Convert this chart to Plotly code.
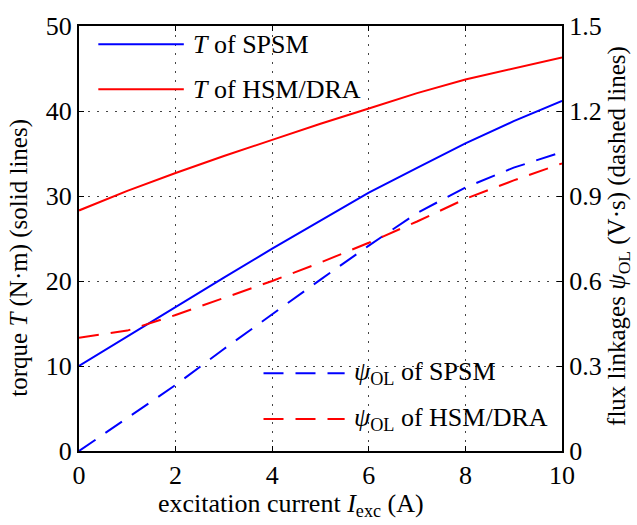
import plotly.graph_objects as go

I_exc = [0, 1, 2, 3, 4, 5, 6, 7, 8, 9, 10]
T_spsm = [10.0, 13.5, 17.0, 20.4, 23.8, 27.1, 30.4, 33.3, 36.2, 38.8, 41.2]
T_hsm = [28.3, 30.6, 32.7, 34.7, 36.6, 38.5, 40.3, 42.1, 43.7, 45.0, 46.3]
psi_spsm = [0.0, 0.115, 0.233, 0.36, 0.484, 0.605, 0.725, 0.84, 0.93, 1.0, 1.055]
psi_hsm = [0.40, 0.425, 0.48, 0.54, 0.60, 0.665, 0.735, 0.81, 0.89, 0.955, 1.015]

x_ticks = [0, 2, 4, 6, 8, 10]
y1_ticks = [0, 10, 20, 30, 40, 50]
y2_ticks = [0, 0.3, 0.6, 0.9, 1.2, 1.5]
y2_labels = ["0", "0.3", "0.6", "0.9", "1.2", "1.5"]

FONT = "Liberation Serif"
BLUE = "#0000ff"
RED = "#ff0000"
DASH = "20px,12px"

fig = go.Figure()
fig.add_trace(go.Scatter(x=I_exc, y=T_spsm, mode="lines", line=dict(color=BLUE, width=2), showlegend=False))
fig.add_trace(go.Scatter(x=I_exc, y=T_hsm, mode="lines", line=dict(color=RED, width=2), showlegend=False))
fig.add_trace(go.Scatter(x=I_exc, y=psi_spsm, mode="lines", yaxis="y2",
                         line=dict(color=BLUE, width=2, dash=DASH), showlegend=False))
fig.add_trace(go.Scatter(x=I_exc, y=psi_hsm, mode="lines", yaxis="y2",
                         line=dict(color=RED, width=2, dash=DASH), showlegend=False))

# manual legends (paper coordinates)
legend_items = [
    (0.04, 0.217, 0.957, BLUE, "solid", "<i>T</i> of SPSM"),
    (0.04, 0.217, 0.851, RED, "solid", "<i>T</i> of HSM/DRA"),
    (0.382, 0.55, 0.183, BLUE, DASH, "<i>ψ</i><sub>OL</sub> of SPSM"),
    (0.382, 0.55, 0.0755, RED, DASH, "<i>ψ</i><sub>OL</sub> of HSM/DRA"),
]
for x0, x1, yy, col, dash, txt in legend_items:
    fig.add_shape(type="line", xref="paper", yref="paper", x0=x0, x1=x1, y0=yy, y1=yy,
                  line=dict(color=col, width=2, dash=dash))
    fig.add_annotation(xref="paper", yref="paper", x=x1 + 0.015, y=yy, text=txt, showarrow=False,
                       xanchor="left", yanchor="middle", font=dict(family=FONT, size=26, color="black"))

# axis titles
titles = [
    (0.438, -0.127, 0, 26, "excitation current <i>I</i><sub>exc</sub> (A)"),
    (-0.124, 0.455, -90, 25, "torque <i>T</i> (N·m) (solid lines)"),
    (1.118, 0.506, -90, 25, "flux linkages <i>ψ</i><sub>OL</sub> (V·s) (dashed lines)"),
]
for tx, ty, ang, fs, txt in titles:
    fig.add_annotation(xref="paper", yref="paper", x=tx, y=ty, text=txt, showarrow=False,
                       textangle=ang, xanchor="center", yanchor="middle",
                       font=dict(family=FONT, size=fs, color="black"))

axis_common = dict(showline=True, linecolor="black", linewidth=2, ticks="inside", ticklen=5,
                   tickcolor="black", tickfont=dict(family=FONT, size=26, color="black"),
                   zeroline=False)
grid = dict(showgrid=True, gridcolor="#444444", griddash="2px,7px", gridwidth=1)

fig.update_layout(
    width=637, height=525,
    margin=dict(l=79, r=75, t=14, b=74),
    paper_bgcolor="white", plot_bgcolor="white",
    font=dict(family=FONT, color="black"),
    xaxis=dict(range=[0, 10], tickvals=x_ticks, mirror="ticks", **grid, **axis_common),
    yaxis=dict(range=[0, 50], tickvals=y1_ticks, mirror=True, **grid, **axis_common),
    yaxis2=dict(range=[0, 1.5], tickvals=y2_ticks, ticktext=y2_labels, overlaying="y", side="right",
                showgrid=False, **axis_common),
)

fig.write_html("out.html")
